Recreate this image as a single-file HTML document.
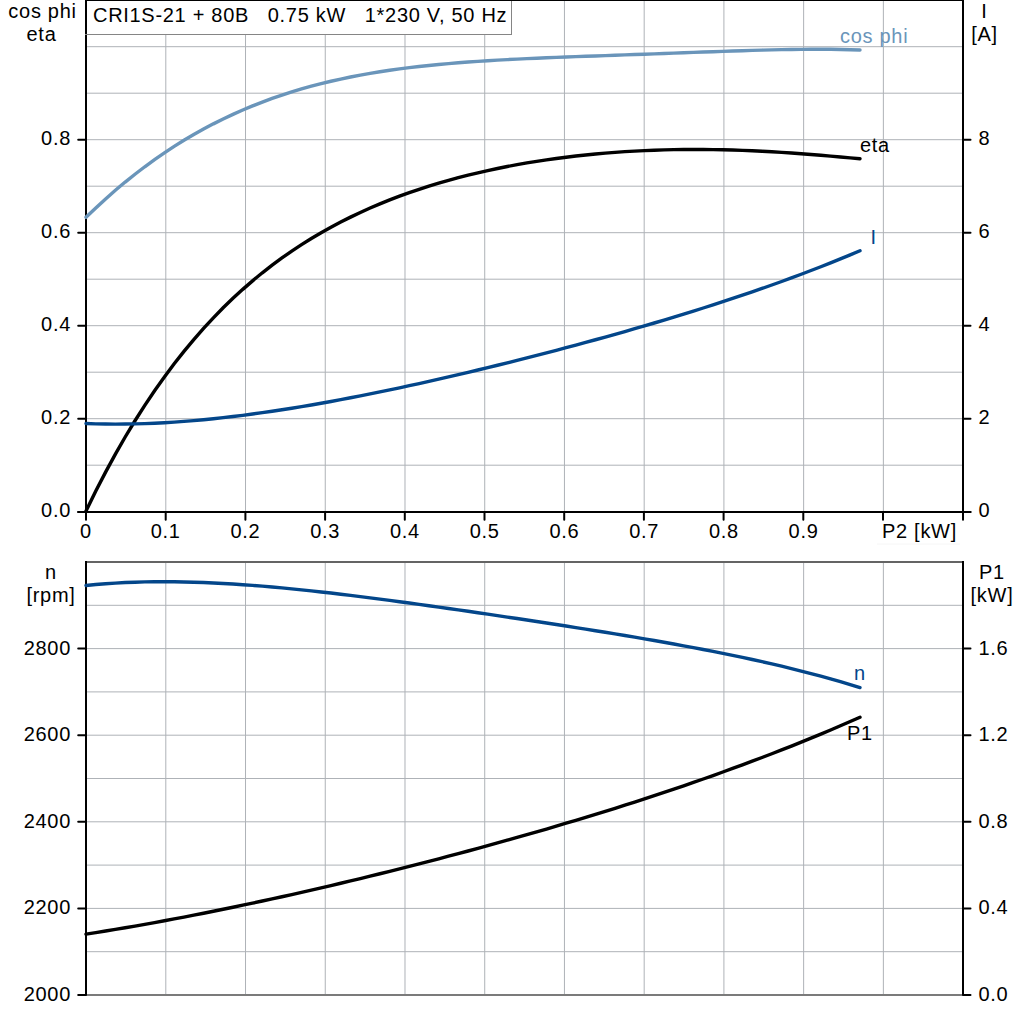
<!DOCTYPE html>
<html><head><meta charset="utf-8"><style>html,body{margin:0;padding:0;background:#fff;width:1024px;height:1024px;overflow:hidden}svg{display:block}</style></head>
<body><svg width="1024" height="1024" viewBox="0 0 1024 1024">
<rect width="1024" height="1024" fill="#fff"/>
<line x1="165.80" y1="0" x2="165.80" y2="511" stroke="#aeb2b7" stroke-width="1"/>
<line x1="165.80" y1="562" x2="165.80" y2="995" stroke="#aeb2b7" stroke-width="1"/>
<line x1="245.53" y1="0" x2="245.53" y2="511" stroke="#aeb2b7" stroke-width="1"/>
<line x1="245.53" y1="562" x2="245.53" y2="995" stroke="#aeb2b7" stroke-width="1"/>
<line x1="325.26" y1="0" x2="325.26" y2="511" stroke="#aeb2b7" stroke-width="1"/>
<line x1="325.26" y1="562" x2="325.26" y2="995" stroke="#aeb2b7" stroke-width="1"/>
<line x1="404.99" y1="0" x2="404.99" y2="511" stroke="#aeb2b7" stroke-width="1"/>
<line x1="404.99" y1="562" x2="404.99" y2="995" stroke="#aeb2b7" stroke-width="1"/>
<line x1="484.72" y1="0" x2="484.72" y2="511" stroke="#aeb2b7" stroke-width="1"/>
<line x1="484.72" y1="562" x2="484.72" y2="995" stroke="#aeb2b7" stroke-width="1"/>
<line x1="564.45" y1="0" x2="564.45" y2="511" stroke="#aeb2b7" stroke-width="1"/>
<line x1="564.45" y1="562" x2="564.45" y2="995" stroke="#aeb2b7" stroke-width="1"/>
<line x1="644.18" y1="0" x2="644.18" y2="511" stroke="#aeb2b7" stroke-width="1"/>
<line x1="644.18" y1="562" x2="644.18" y2="995" stroke="#aeb2b7" stroke-width="1"/>
<line x1="723.91" y1="0" x2="723.91" y2="511" stroke="#aeb2b7" stroke-width="1"/>
<line x1="723.91" y1="562" x2="723.91" y2="995" stroke="#aeb2b7" stroke-width="1"/>
<line x1="803.64" y1="0" x2="803.64" y2="511" stroke="#aeb2b7" stroke-width="1"/>
<line x1="803.64" y1="562" x2="803.64" y2="995" stroke="#aeb2b7" stroke-width="1"/>
<line x1="883.37" y1="0" x2="883.37" y2="511" stroke="#aeb2b7" stroke-width="1"/>
<line x1="883.37" y1="562" x2="883.37" y2="995" stroke="#aeb2b7" stroke-width="1"/>
<line x1="86" y1="465.20" x2="962" y2="465.20" stroke="#aeb2b7" stroke-width="1"/>
<line x1="86" y1="418.70" x2="962" y2="418.70" stroke="#aeb2b7" stroke-width="1"/>
<line x1="86" y1="372.20" x2="962" y2="372.20" stroke="#aeb2b7" stroke-width="1"/>
<line x1="86" y1="325.70" x2="962" y2="325.70" stroke="#aeb2b7" stroke-width="1"/>
<line x1="86" y1="279.20" x2="962" y2="279.20" stroke="#aeb2b7" stroke-width="1"/>
<line x1="86" y1="232.70" x2="962" y2="232.70" stroke="#aeb2b7" stroke-width="1"/>
<line x1="86" y1="186.20" x2="962" y2="186.20" stroke="#aeb2b7" stroke-width="1"/>
<line x1="86" y1="139.70" x2="962" y2="139.70" stroke="#aeb2b7" stroke-width="1"/>
<line x1="86" y1="93.20" x2="962" y2="93.20" stroke="#aeb2b7" stroke-width="1"/>
<line x1="86" y1="46.70" x2="962" y2="46.70" stroke="#aeb2b7" stroke-width="1"/>
<line x1="86" y1="951.70" x2="962" y2="951.70" stroke="#aeb2b7" stroke-width="1"/>
<line x1="86" y1="908.40" x2="962" y2="908.40" stroke="#aeb2b7" stroke-width="1"/>
<line x1="86" y1="865.10" x2="962" y2="865.10" stroke="#aeb2b7" stroke-width="1"/>
<line x1="86" y1="821.80" x2="962" y2="821.80" stroke="#aeb2b7" stroke-width="1"/>
<line x1="86" y1="778.50" x2="962" y2="778.50" stroke="#aeb2b7" stroke-width="1"/>
<line x1="86" y1="735.20" x2="962" y2="735.20" stroke="#aeb2b7" stroke-width="1"/>
<line x1="86" y1="691.90" x2="962" y2="691.90" stroke="#aeb2b7" stroke-width="1"/>
<line x1="86" y1="648.60" x2="962" y2="648.60" stroke="#aeb2b7" stroke-width="1"/>
<line x1="86" y1="605.30" x2="962" y2="605.30" stroke="#aeb2b7" stroke-width="1"/>
<line x1="85" y1="0.5" x2="964" y2="0.5" stroke="#000" stroke-width="1"/>
<line x1="86" y1="0" x2="86" y2="513" stroke="#000" stroke-width="2"/>
<line x1="963" y1="0" x2="963" y2="513" stroke="#000" stroke-width="2"/>
<line x1="78.2" y1="512" x2="970.5" y2="512" stroke="#000" stroke-width="2" stroke-linecap="round"/>
<line x1="78.2" y1="512" x2="86" y2="512" stroke="#000" stroke-width="2" stroke-linecap="round"/>
<line x1="963" y1="512" x2="970.5" y2="512" stroke="#000" stroke-width="2" stroke-linecap="round"/>
<line x1="78.2" y1="418.7" x2="86" y2="418.7" stroke="#000" stroke-width="2" stroke-linecap="round"/>
<line x1="963" y1="418.7" x2="970.5" y2="418.7" stroke="#000" stroke-width="2" stroke-linecap="round"/>
<line x1="78.2" y1="325.7" x2="86" y2="325.7" stroke="#000" stroke-width="2" stroke-linecap="round"/>
<line x1="963" y1="325.7" x2="970.5" y2="325.7" stroke="#000" stroke-width="2" stroke-linecap="round"/>
<line x1="78.2" y1="232.7" x2="86" y2="232.7" stroke="#000" stroke-width="2" stroke-linecap="round"/>
<line x1="963" y1="232.7" x2="970.5" y2="232.7" stroke="#000" stroke-width="2" stroke-linecap="round"/>
<line x1="78.2" y1="139.7" x2="86" y2="139.7" stroke="#000" stroke-width="2" stroke-linecap="round"/>
<line x1="963" y1="139.7" x2="970.5" y2="139.7" stroke="#000" stroke-width="2" stroke-linecap="round"/>
<line x1="86.0" y1="512" x2="86.0" y2="519.8" stroke="#000" stroke-width="2" stroke-linecap="round"/>
<line x1="165.7" y1="512" x2="165.7" y2="519.8" stroke="#000" stroke-width="2" stroke-linecap="round"/>
<line x1="245.4" y1="512" x2="245.4" y2="519.8" stroke="#000" stroke-width="2" stroke-linecap="round"/>
<line x1="325.1" y1="512" x2="325.1" y2="519.8" stroke="#000" stroke-width="2" stroke-linecap="round"/>
<line x1="404.8" y1="512" x2="404.8" y2="519.8" stroke="#000" stroke-width="2" stroke-linecap="round"/>
<line x1="484.5" y1="512" x2="484.5" y2="519.8" stroke="#000" stroke-width="2" stroke-linecap="round"/>
<line x1="564.2" y1="512" x2="564.2" y2="519.8" stroke="#000" stroke-width="2" stroke-linecap="round"/>
<line x1="643.9" y1="512" x2="643.9" y2="519.8" stroke="#000" stroke-width="2" stroke-linecap="round"/>
<line x1="723.6" y1="512" x2="723.6" y2="519.8" stroke="#000" stroke-width="2" stroke-linecap="round"/>
<line x1="803.3" y1="512" x2="803.3" y2="519.8" stroke="#000" stroke-width="2" stroke-linecap="round"/>
<line x1="883.0" y1="512" x2="883.0" y2="519.8" stroke="#000" stroke-width="2" stroke-linecap="round"/>
<line x1="963" y1="512" x2="963" y2="519.8" stroke="#000" stroke-width="2" stroke-linecap="round"/>
<line x1="86" y1="562" x2="963" y2="562" stroke="#646464" stroke-width="2"/>
<line x1="86" y1="995" x2="963" y2="995" stroke="#7b7b7b" stroke-width="2"/>
<line x1="86" y1="561" x2="86" y2="995" stroke="#000" stroke-width="2"/>
<line x1="963" y1="561" x2="963" y2="995" stroke="#000" stroke-width="2"/>
<line x1="78.2" y1="995.0" x2="86" y2="995.0" stroke="#000" stroke-width="2" stroke-linecap="round"/>
<line x1="963" y1="995.0" x2="970.5" y2="995.0" stroke="#000" stroke-width="2" stroke-linecap="round"/>
<line x1="78.2" y1="908.4" x2="86" y2="908.4" stroke="#000" stroke-width="2" stroke-linecap="round"/>
<line x1="963" y1="908.4" x2="970.5" y2="908.4" stroke="#000" stroke-width="2" stroke-linecap="round"/>
<line x1="78.2" y1="821.8" x2="86" y2="821.8" stroke="#000" stroke-width="2" stroke-linecap="round"/>
<line x1="963" y1="821.8" x2="970.5" y2="821.8" stroke="#000" stroke-width="2" stroke-linecap="round"/>
<line x1="78.2" y1="735.2" x2="86" y2="735.2" stroke="#000" stroke-width="2" stroke-linecap="round"/>
<line x1="963" y1="735.2" x2="970.5" y2="735.2" stroke="#000" stroke-width="2" stroke-linecap="round"/>
<line x1="78.2" y1="648.6" x2="86" y2="648.6" stroke="#000" stroke-width="2" stroke-linecap="round"/>
<line x1="963" y1="648.6" x2="970.5" y2="648.6" stroke="#000" stroke-width="2" stroke-linecap="round"/>
<path d="M86.00,217.31 L95.80,207.90 L105.59,198.89 L115.39,190.29 L125.19,182.07 L134.99,174.22 L144.78,166.75 L154.58,159.63 L164.38,152.86 L174.18,146.43 L183.97,140.32 L193.77,134.53 L203.57,129.05 L213.37,123.87 L223.16,118.97 L232.96,114.35 L242.76,110.00 L252.56,105.91 L262.35,102.07 L272.15,98.46 L281.95,95.08 L291.75,91.92 L301.54,88.97 L311.34,86.21 L321.14,83.65 L330.94,81.27 L340.73,79.06 L350.53,77.01 L360.33,75.11 L370.13,73.37 L379.92,71.75 L389.72,70.27 L399.52,68.90 L409.32,67.65 L419.11,66.49 L428.91,65.44 L438.71,64.47 L448.51,63.59 L458.30,62.78 L468.10,62.03 L477.90,61.35 L487.70,60.72 L497.49,60.14 L507.29,59.61 L517.09,59.11 L526.89,58.65 L536.68,58.21 L546.48,57.79 L556.28,57.40 L566.08,57.02 L575.87,56.65 L585.67,56.29 L595.47,55.94 L605.27,55.59 L615.06,55.24 L624.86,54.89 L634.66,54.54 L644.46,54.19 L654.25,53.84 L664.05,53.48 L673.85,53.12 L683.65,52.76 L693.44,52.40 L703.24,52.05 L713.04,51.69 L722.84,51.35 L732.63,51.01 L742.43,50.69 L752.23,50.39 L762.03,50.11 L771.82,49.86 L781.62,49.64 L791.42,49.46 L801.22,49.34 L811.01,49.26 L820.81,49.26 L830.61,49.32 L840.41,49.46 L850.20,49.70 L860.00,50.04" fill="none" stroke="#6a95ba" stroke-width="3.4" stroke-linecap="round"/>
<path d="M86.00,511.07 L95.80,491.09 L105.59,472.11 L115.39,454.09 L125.19,436.99 L134.99,420.76 L144.78,405.37 L154.58,390.77 L164.38,376.93 L174.18,363.80 L183.97,351.37 L193.77,339.58 L203.57,328.42 L213.37,317.84 L223.16,307.82 L232.96,298.34 L242.76,289.35 L252.56,280.85 L262.35,272.79 L272.15,265.17 L281.95,257.95 L291.75,251.12 L301.54,244.65 L311.34,238.52 L321.14,232.72 L330.94,227.23 L340.73,222.04 L350.53,217.12 L360.33,212.46 L370.13,208.06 L379.92,203.88 L389.72,199.94 L399.52,196.20 L409.32,192.66 L419.11,189.32 L428.91,186.16 L438.71,183.17 L448.51,180.35 L458.30,177.68 L468.10,175.17 L477.90,172.80 L487.70,170.57 L497.49,168.48 L507.29,166.51 L517.09,164.67 L526.89,162.94 L536.68,161.34 L546.48,159.85 L556.28,158.46 L566.08,157.19 L575.87,156.02 L585.67,154.95 L595.47,153.98 L605.27,153.12 L615.06,152.34 L624.86,151.67 L634.66,151.09 L644.46,150.60 L654.25,150.20 L664.05,149.89 L673.85,149.66 L683.65,149.52 L693.44,149.47 L703.24,149.50 L713.04,149.61 L722.84,149.80 L732.63,150.06 L742.43,150.39 L752.23,150.80 L762.03,151.27 L771.82,151.81 L781.62,152.41 L791.42,153.06 L801.22,153.76 L811.01,154.51 L820.81,155.30 L830.61,156.12 L840.41,156.97 L850.20,157.84 L860.00,158.72" fill="none" stroke="#000" stroke-width="3.4" stroke-linecap="round"/>
<path d="M86.00,423.55 L95.80,423.87 L105.59,424.06 L115.39,424.13 L125.19,424.07 L134.99,423.90 L144.78,423.61 L154.58,423.21 L164.38,422.70 L174.18,422.10 L183.97,421.39 L193.77,420.59 L203.57,419.70 L213.37,418.73 L223.16,417.67 L232.96,416.54 L242.76,415.32 L252.56,414.04 L262.35,412.68 L272.15,411.26 L281.95,409.77 L291.75,408.22 L301.54,406.61 L311.34,404.95 L321.14,403.23 L330.94,401.46 L340.73,399.64 L350.53,397.78 L360.33,395.87 L370.13,393.92 L379.92,391.92 L389.72,389.89 L399.52,387.81 L409.32,385.70 L419.11,383.56 L428.91,381.38 L438.71,379.17 L448.51,376.92 L458.30,374.65 L468.10,372.34 L477.90,370.01 L487.70,367.64 L497.49,365.25 L507.29,362.82 L517.09,360.37 L526.89,357.90 L536.68,355.39 L546.48,352.86 L556.28,350.29 L566.08,347.70 L575.87,345.08 L585.67,342.43 L595.47,339.75 L605.27,337.04 L615.06,334.30 L624.86,331.53 L634.66,328.72 L644.46,325.88 L654.25,323.00 L664.05,320.08 L673.85,317.12 L683.65,314.13 L693.44,311.09 L703.24,308.00 L713.04,304.87 L722.84,301.70 L732.63,298.47 L742.43,295.19 L752.23,291.85 L762.03,288.46 L771.82,285.00 L781.62,281.48 L791.42,277.90 L801.22,274.25 L811.01,270.53 L820.81,266.73 L830.61,262.85 L840.41,258.90 L850.20,254.85 L860.00,250.72" fill="none" stroke="#03468a" stroke-width="3.4" stroke-linecap="round"/>
<path d="M86.00,585.46 L95.80,584.53 L105.59,583.74 L115.39,583.08 L125.19,582.57 L134.99,582.18 L144.78,581.91 L154.58,581.75 L164.38,581.71 L174.18,581.77 L183.97,581.93 L193.77,582.18 L203.57,582.52 L213.37,582.95 L223.16,583.46 L232.96,584.04 L242.76,584.69 L252.56,585.40 L262.35,586.18 L272.15,587.02 L281.95,587.91 L291.75,588.85 L301.54,589.84 L311.34,590.88 L321.14,591.95 L330.94,593.06 L340.73,594.21 L350.53,595.39 L360.33,596.60 L370.13,597.84 L379.92,599.10 L389.72,600.38 L399.52,601.69 L409.32,603.02 L419.11,604.36 L428.91,605.72 L438.71,607.10 L448.51,608.49 L458.30,609.89 L468.10,611.30 L477.90,612.73 L487.70,614.17 L497.49,615.62 L507.29,617.07 L517.09,618.54 L526.89,620.02 L536.68,621.51 L546.48,623.01 L556.28,624.53 L566.08,626.05 L575.87,627.59 L585.67,629.14 L595.47,630.71 L605.27,632.30 L615.06,633.90 L624.86,635.53 L634.66,637.18 L644.46,638.85 L654.25,640.54 L664.05,642.27 L673.85,644.02 L683.65,645.81 L693.44,647.64 L703.24,649.50 L713.04,651.41 L722.84,653.36 L732.63,655.36 L742.43,657.41 L752.23,659.52 L762.03,661.68 L771.82,663.91 L781.62,666.21 L791.42,668.58 L801.22,671.03 L811.01,673.56 L820.81,676.17 L830.61,678.87 L840.41,681.67 L850.20,684.57 L860.00,687.58" fill="none" stroke="#03468a" stroke-width="3.4" stroke-linecap="round"/>
<path d="M86.00,934.14 L95.80,932.61 L105.59,931.03 L115.39,929.42 L125.19,927.76 L134.99,926.07 L144.78,924.34 L154.58,922.57 L164.38,920.77 L174.18,918.94 L183.97,917.07 L193.77,915.17 L203.57,913.24 L213.37,911.28 L223.16,909.28 L232.96,907.26 L242.76,905.21 L252.56,903.13 L262.35,901.03 L272.15,898.89 L281.95,896.73 L291.75,894.55 L301.54,892.34 L311.34,890.10 L321.14,887.84 L330.94,885.55 L340.73,883.24 L350.53,880.90 L360.33,878.54 L370.13,876.16 L379.92,873.75 L389.72,871.32 L399.52,868.86 L409.32,866.38 L419.11,863.87 L428.91,861.35 L438.71,858.79 L448.51,856.22 L458.30,853.61 L468.10,850.99 L477.90,848.33 L487.70,845.65 L497.49,842.95 L507.29,840.22 L517.09,837.46 L526.89,834.67 L536.68,831.86 L546.48,829.02 L556.28,826.15 L566.08,823.24 L575.87,820.31 L585.67,817.35 L595.47,814.35 L605.27,811.32 L615.06,808.26 L624.86,805.16 L634.66,802.02 L644.46,798.85 L654.25,795.64 L664.05,792.40 L673.85,789.11 L683.65,785.78 L693.44,782.41 L703.24,778.99 L713.04,775.53 L722.84,772.02 L732.63,768.47 L742.43,764.86 L752.23,761.21 L762.03,757.51 L771.82,753.75 L781.62,749.93 L791.42,746.06 L801.22,742.13 L811.01,738.14 L820.81,734.09 L830.61,729.98 L840.41,725.80 L850.20,721.56 L860.00,717.24" fill="none" stroke="#000" stroke-width="3.4" stroke-linecap="round"/>
<rect x="85.5" y="-0.5" width="426" height="35" fill="#fff" stroke="#858585" stroke-width="1"/>
<line x1="85" y1="0.5" x2="964" y2="0.5" stroke="#000" stroke-width="1"/>
<line x1="86" y1="0" x2="86" y2="34" stroke="#000" stroke-width="2"/>
<text x="93" y="22" font-family="Liberation Sans, sans-serif" font-size="20" letter-spacing="0.7" text-anchor="start" fill="#000">CRI1S-21&#160;+&#160;80B&#160;&#160;&#160;0.75&#160;kW&#160;&#160;&#160;1*230&#160;V,&#160;50&#160;Hz</text>
<text x="71" y="517.3" font-family="Liberation Sans, sans-serif" font-size="20" letter-spacing="0.7" text-anchor="end" fill="#000">0.0</text>
<text x="71" y="424.3" font-family="Liberation Sans, sans-serif" font-size="20" letter-spacing="0.7" text-anchor="end" fill="#000">0.2</text>
<text x="71" y="331.3" font-family="Liberation Sans, sans-serif" font-size="20" letter-spacing="0.7" text-anchor="end" fill="#000">0.4</text>
<text x="71" y="238.29999999999998" font-family="Liberation Sans, sans-serif" font-size="20" letter-spacing="0.7" text-anchor="end" fill="#000">0.6</text>
<text x="71" y="145.29999999999998" font-family="Liberation Sans, sans-serif" font-size="20" letter-spacing="0.7" text-anchor="end" fill="#000">0.8</text>
<text x="978.5" y="517.3" font-family="Liberation Sans, sans-serif" font-size="20" letter-spacing="0.7" text-anchor="start" fill="#000">0</text>
<text x="978.5" y="424.3" font-family="Liberation Sans, sans-serif" font-size="20" letter-spacing="0.7" text-anchor="start" fill="#000">2</text>
<text x="978.5" y="331.3" font-family="Liberation Sans, sans-serif" font-size="20" letter-spacing="0.7" text-anchor="start" fill="#000">4</text>
<text x="978.5" y="238.29999999999998" font-family="Liberation Sans, sans-serif" font-size="20" letter-spacing="0.7" text-anchor="start" fill="#000">6</text>
<text x="978.5" y="145.29999999999998" font-family="Liberation Sans, sans-serif" font-size="20" letter-spacing="0.7" text-anchor="start" fill="#000">8</text>
<text x="86.0" y="537.5" font-family="Liberation Sans, sans-serif" font-size="20" letter-spacing="0.7" text-anchor="middle" fill="#000">0</text>
<text x="165.73000000000002" y="537.5" font-family="Liberation Sans, sans-serif" font-size="20" letter-spacing="0.7" text-anchor="middle" fill="#000">0.1</text>
<text x="245.46" y="537.5" font-family="Liberation Sans, sans-serif" font-size="20" letter-spacing="0.7" text-anchor="middle" fill="#000">0.2</text>
<text x="325.19" y="537.5" font-family="Liberation Sans, sans-serif" font-size="20" letter-spacing="0.7" text-anchor="middle" fill="#000">0.3</text>
<text x="404.92" y="537.5" font-family="Liberation Sans, sans-serif" font-size="20" letter-spacing="0.7" text-anchor="middle" fill="#000">0.4</text>
<text x="484.65000000000003" y="537.5" font-family="Liberation Sans, sans-serif" font-size="20" letter-spacing="0.7" text-anchor="middle" fill="#000">0.5</text>
<text x="564.38" y="537.5" font-family="Liberation Sans, sans-serif" font-size="20" letter-spacing="0.7" text-anchor="middle" fill="#000">0.6</text>
<text x="644.11" y="537.5" font-family="Liberation Sans, sans-serif" font-size="20" letter-spacing="0.7" text-anchor="middle" fill="#000">0.7</text>
<text x="723.84" y="537.5" font-family="Liberation Sans, sans-serif" font-size="20" letter-spacing="0.7" text-anchor="middle" fill="#000">0.8</text>
<text x="803.57" y="537.5" font-family="Liberation Sans, sans-serif" font-size="20" letter-spacing="0.7" text-anchor="middle" fill="#000">0.9</text>
<line x1="877" y1="544" x2="960" y2="544" stroke="#f6f6f6" stroke-width="1"/>
<text x="882" y="538" font-family="Liberation Sans, sans-serif" font-size="20" letter-spacing="0.7" text-anchor="start" fill="#000">P2&#160;[kW]</text>
<text x="71" y="1001.0" font-family="Liberation Sans, sans-serif" font-size="20" letter-spacing="0.7" text-anchor="end" fill="#000">2000</text>
<text x="71" y="914.4" font-family="Liberation Sans, sans-serif" font-size="20" letter-spacing="0.7" text-anchor="end" fill="#000">2200</text>
<text x="71" y="827.8" font-family="Liberation Sans, sans-serif" font-size="20" letter-spacing="0.7" text-anchor="end" fill="#000">2400</text>
<text x="71" y="741.2" font-family="Liberation Sans, sans-serif" font-size="20" letter-spacing="0.7" text-anchor="end" fill="#000">2600</text>
<text x="71" y="654.6" font-family="Liberation Sans, sans-serif" font-size="20" letter-spacing="0.7" text-anchor="end" fill="#000">2800</text>
<text x="978.5" y="1001.0" font-family="Liberation Sans, sans-serif" font-size="20" letter-spacing="0.7" text-anchor="start" fill="#000">0.0</text>
<text x="978.5" y="914.4" font-family="Liberation Sans, sans-serif" font-size="20" letter-spacing="0.7" text-anchor="start" fill="#000">0.4</text>
<text x="978.5" y="827.8" font-family="Liberation Sans, sans-serif" font-size="20" letter-spacing="0.7" text-anchor="start" fill="#000">0.8</text>
<text x="978.5" y="741.2" font-family="Liberation Sans, sans-serif" font-size="20" letter-spacing="0.7" text-anchor="start" fill="#000">1.2</text>
<text x="978.5" y="654.6" font-family="Liberation Sans, sans-serif" font-size="20" letter-spacing="0.7" text-anchor="start" fill="#000">1.6</text>
<text x="42.5" y="18" font-family="Liberation Sans, sans-serif" font-size="20" letter-spacing="0.7" text-anchor="middle" fill="#000">cos&#160;phi</text>
<text x="41.5" y="41" font-family="Liberation Sans, sans-serif" font-size="20" letter-spacing="0.7" text-anchor="middle" fill="#000">eta</text>
<text x="984.5" y="18" font-family="Liberation Sans, sans-serif" font-size="20" letter-spacing="0.7" text-anchor="middle" fill="#000">I</text>
<text x="984.5" y="41" font-family="Liberation Sans, sans-serif" font-size="20" letter-spacing="0.7" text-anchor="middle" fill="#000">[A]</text>
<text x="51" y="579" font-family="Liberation Sans, sans-serif" font-size="20" letter-spacing="0.7" text-anchor="middle" fill="#000">n</text>
<text x="51" y="602" font-family="Liberation Sans, sans-serif" font-size="20" letter-spacing="0.7" text-anchor="middle" fill="#000">[rpm]</text>
<text x="992" y="579" font-family="Liberation Sans, sans-serif" font-size="20" letter-spacing="0.7" text-anchor="middle" fill="#000">P1</text>
<text x="992" y="602" font-family="Liberation Sans, sans-serif" font-size="20" letter-spacing="0.7" text-anchor="middle" fill="#000">[kW]</text>
<text x="840" y="43" font-family="Liberation Sans, sans-serif" font-size="20" letter-spacing="0.7" text-anchor="start" fill="#6a95ba">cos&#160;phi</text>
<text x="860" y="152" font-family="Liberation Sans, sans-serif" font-size="20" letter-spacing="0.7" text-anchor="start" fill="#000">eta</text>
<text x="870.5" y="244" font-family="Liberation Sans, sans-serif" font-size="20" letter-spacing="0.7" text-anchor="start" fill="#03468a">I</text>
<text x="854" y="680" font-family="Liberation Sans, sans-serif" font-size="20" letter-spacing="0.7" text-anchor="start" fill="#03468a">n</text>
<text x="847" y="740" font-family="Liberation Sans, sans-serif" font-size="20" letter-spacing="0.7" text-anchor="start" fill="#000">P1</text>
</svg></body></html>
